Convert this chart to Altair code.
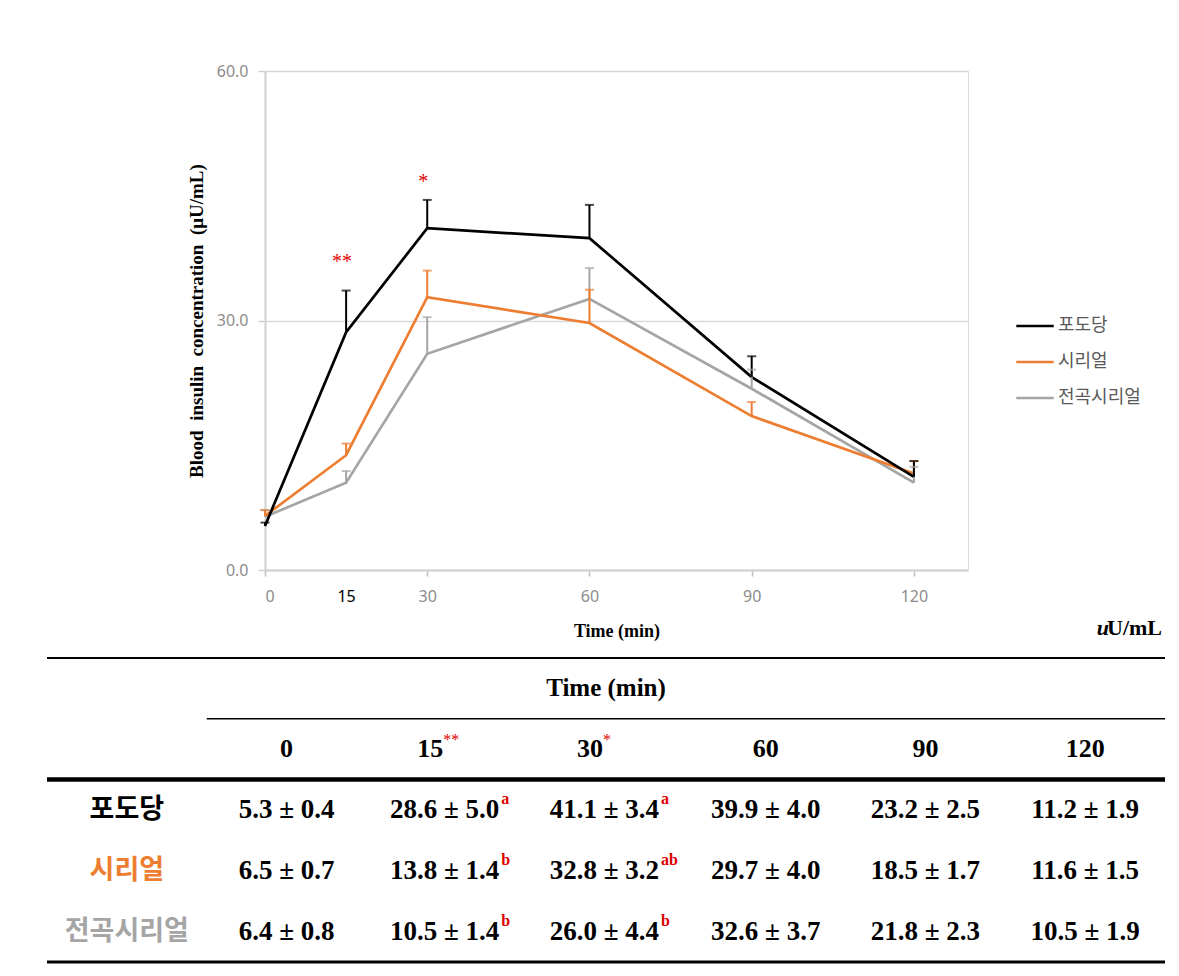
import altair as alt
import pandas as pd

# ---------------- data ----------------
times = [0, 15, 30, 60, 90, 120]
groups = ["포도당", "시리얼", "전곡시리얼"]
colors = ["#000000", "#ED7D31", "#A5A5A5"]

glucose_mean = [5.3, 28.6, 41.1, 39.9, 23.2, 11.2]
glucose_se = [0.4, 5.0, 3.4, 4.0, 2.5, 1.9]
cereal_mean = [6.5, 13.8, 32.8, 29.7, 18.5, 11.6]
cereal_se = [0.7, 1.4, 3.2, 4.0, 1.7, 1.5]
whole_mean = [6.4, 10.5, 26.0, 32.6, 21.8, 10.5]
whole_se = [0.8, 1.4, 4.4, 3.7, 2.3, 1.9]

glucose_sup = ["", "a", "a", "", "", ""]
cereal_sup = ["", "b", "ab", "", "", ""]
whole_sup = ["", "b", "b", "", "", ""]

header_sig = ["", "**", "*", "", "", ""]
star_times = [15, 30]
star_labels = ["**", "*"]
star_levels = [37.0, 46.6]

# ---------------- tables ----------------
recs = []
for k, (g, ms, ss, sp) in enumerate(zip(
        groups,
        [glucose_mean, cereal_mean, whole_mean],
        [glucose_se, cereal_se, whole_se],
        [glucose_sup, cereal_sup, whole_sup])):
    for i, t in enumerate(times):
        recs.append({
            "group": g, "time": t, "mean": ms[i], "se": ss[i],
            "upper": ms[i] + ss[i],
            "tx": i + 1.5, "ty": 5 + 2 * k,
            "cell": f"{ms[i]:.1f} ± {ss[i]:.1f}", "sup": sp[i],
        })
df = pd.DataFrame(recs)
df_draw = pd.concat([df[df.group == g] for g in reversed(groups)])

hdr = pd.DataFrame({
    "label": [str(t) for t in times],
    "sig": header_sig,
    "tx": [i + 1.5 for i in range(len(times))],
})
lab = pd.DataFrame({"group": groups, "ty": [5 + 2 * k for k in range(len(groups))]})
stars = pd.DataFrame({"time": star_times, "label": star_labels, "level": star_levels})
one = pd.DataFrame({"k": [0]})

SERIF = "Liberation Serif"
SANS = "Noto Sans"
KR = "Noto Sans CJK KR"
RED = "#E00000"

X_LINE = alt.Scale(domain=[0, 130], nice=False, zero=False)
Y_LINE = alt.Scale(domain=[0, 60], nice=False, zero=False)
X_TAB = alt.Scale(domain=[0, 7], range=[-218, 900], nice=False, zero=False)
Y_TAB = alt.Scale(domain=[0, 10], range=[587, 891], nice=False, zero=False)
COLOR = alt.Scale(domain=groups, range=colors)

XT = "Time (min)"
YT = "Blood\u2002insulin\u2002concentration\u2002(μU/mL)"

x_axis = alt.Axis(
    values=times, format="d", grid=False,
    labelFont=SANS, labelFontSize=16,
    labelColor={"expr": "datum.value == 15 ? '#000000' : '#8c8c8c'"},
    tickOpacity={"expr": "datum.value == 15 ? 0 : 1"},
    tickColor="#bfbfbf", tickSize=6, tickWidth=1.5,
    domainColor="#d0d0d0", domainWidth=2, labelPadding=12,
    titleFont=SERIF, titleFontSize=18, titleFontWeight="bold",
    titleColor="#000000", titlePadding=18,
)
y_axis = alt.Axis(
    values=[0, 30, 60], format=".1f", grid=True,
    gridColor="#d9d9d9", gridWidth=1.5,
    labelFont=SANS, labelFontSize=16, labelColor="#8c8c8c",
    tickColor="#d0d0d0", tickSize=7, tickWidth=1.5,
    domainColor="#d0d0d0", domainWidth=2, labelPadding=10,
    titleFont=SERIF, titleFontSize=19, titleFontWeight="bold",
    titleColor="#000000", titlePadding=10,
)

base = alt.Chart(df_draw)
line = base.mark_line(strokeWidth=2.7).encode(
    x=alt.X("time:Q", scale=X_LINE, axis=x_axis, title=XT),
    y=alt.Y("mean:Q", scale=Y_LINE, axis=y_axis, title=YT),
    color=alt.Color("group:N", scale=COLOR, legend=alt.Legend(
        title=None, orient="none", legendX=750, legendY=235,
        symbolType="stroke", symbolSize=1400, symbolStrokeWidth=2.5,
        labelFont=KR, labelFontSize=18, labelColor="#595959",
        labelOffset=3, rowPadding=7)),
)
err = base.mark_rule(strokeWidth=2).encode(
    x=alt.X("time:Q", scale=X_LINE, title=XT),
    y=alt.Y("mean:Q", scale=Y_LINE, title=YT),
    y2="upper:Q",
    color=alt.Color("group:N", scale=COLOR, legend=None),
)
cap = base.mark_tick(orient="horizontal", size=9, thickness=2).encode(
    x=alt.X("time:Q", scale=X_LINE, title=XT),
    y=alt.Y("upper:Q", scale=Y_LINE, title=YT),
    color=alt.Color("group:N", scale=COLOR, legend=None),
)
star = alt.Chart(stars).mark_text(
    font=SERIF, fontSize=20, color=RED, dx=-4, baseline="middle"
).encode(
    x=alt.X("time:Q", scale=X_LINE, title=XT),
    y=alt.Y("level:Q", scale=Y_LINE, title=YT),
    text="label:N",
)
plot = alt.layer(line, err, cap, star)

# ---------------- table ----------------
def tx(v):
    return alt.XDatum(v, scale=X_TAB, axis=None)


def ty(v):
    return alt.YDatum(v, scale=Y_TAB, axis=None)


def hline(y, x0, x1, w):
    return alt.Chart(one).mark_rule(color="#000000", strokeWidth=w).encode(
        x=tx(x0), x2=alt.X2Datum(x1), y=ty(y))


rules = [hline(0, 0, 7, 2), hline(2, 1, 7, 1.5), hline(4, 0, 7, 4.5), hline(10, 0, 7, 3)]

TXT = dict(font=SERIF, fontWeight="bold", color="#000000", baseline="middle")

time_title = alt.Chart(one).mark_text(text="Time (min)", fontSize=25, **TXT).encode(
    x=tx(3.5), y=ty(1))
unit_u = alt.Chart(one).mark_text(
    text="u", font=SERIF, fontSize=22, fontWeight="bold", fontStyle="italic",
    align="right", dx=-56, baseline="middle", color="#000000"
).encode(x=tx(7), y=ty(-1))
unit_rest = alt.Chart(one).mark_text(
    text="U/mL", font=SERIF, fontSize=22, fontWeight="bold",
    align="right", dx=-3, baseline="middle", color="#000000"
).encode(x=tx(7), y=ty(-1))

hx = alt.X("tx:Q", scale=X_TAB, axis=None)
hdr_plain = alt.Chart(hdr).transform_filter("datum.sig == ''").mark_text(
    fontSize=26, **TXT).encode(x=hx, y=ty(3), text="label:N")
hdr_main = alt.Chart(hdr).transform_filter("datum.sig != ''").mark_text(
    align="right", dx=-3, fontSize=26, **TXT).encode(x=hx, y=ty(3), text="label:N")
hdr_sig = alt.Chart(hdr).transform_filter("datum.sig != ''").mark_text(
    font=SERIF, fontSize=16, color=RED, align="left", dx=-3, dy=-9, baseline="middle"
).encode(x=hx, y=ty(3), text="sig:N")

cy = alt.Y("ty:Q", scale=Y_TAB, axis=None)
cell_plain = alt.Chart(df).transform_filter("datum.sup == ''").mark_text(
    fontSize=27, **TXT).encode(x=hx, y=cy, text="cell:N")
cell_main = alt.Chart(df).transform_filter("datum.sup != ''").mark_text(
    align="right", dx=53, fontSize=27, **TXT).encode(x=hx, y=cy, text="cell:N")
cell_sup = alt.Chart(df).transform_filter("datum.sup != ''").mark_text(
    font=SERIF, fontSize=16, fontWeight="bold", color=RED, align="left", dx=55, dy=-11,
    baseline="middle").encode(x=hx, y=cy, text="sup:N")

row_lab = alt.Chart(lab).mark_text(
    font=KR, fontSize=27, fontWeight="bold", baseline="middle"
).encode(
    x=tx(0.5), y=cy, text="group:N",
    color=alt.Color("group:N", scale=COLOR, legend=None),
)

table = alt.layer(*rules, time_title, unit_u, unit_rest, hdr_plain, hdr_main, hdr_sig,
                  cell_plain, cell_main, cell_sup, row_lab)

chart = alt.layer(plot, table).resolve_scale(
    x="independent", y="independent"
).properties(
    width=703, height=499,
    autosize=alt.AutoSizeParams(type="none"),
    padding={"left": 257, "top": 63, "right": 203, "bottom": 398},
).configure_view(stroke=None).configure(background="#ffffff")

chart.save("out.html", embed_options={"renderer": "svg", "actions": False})
